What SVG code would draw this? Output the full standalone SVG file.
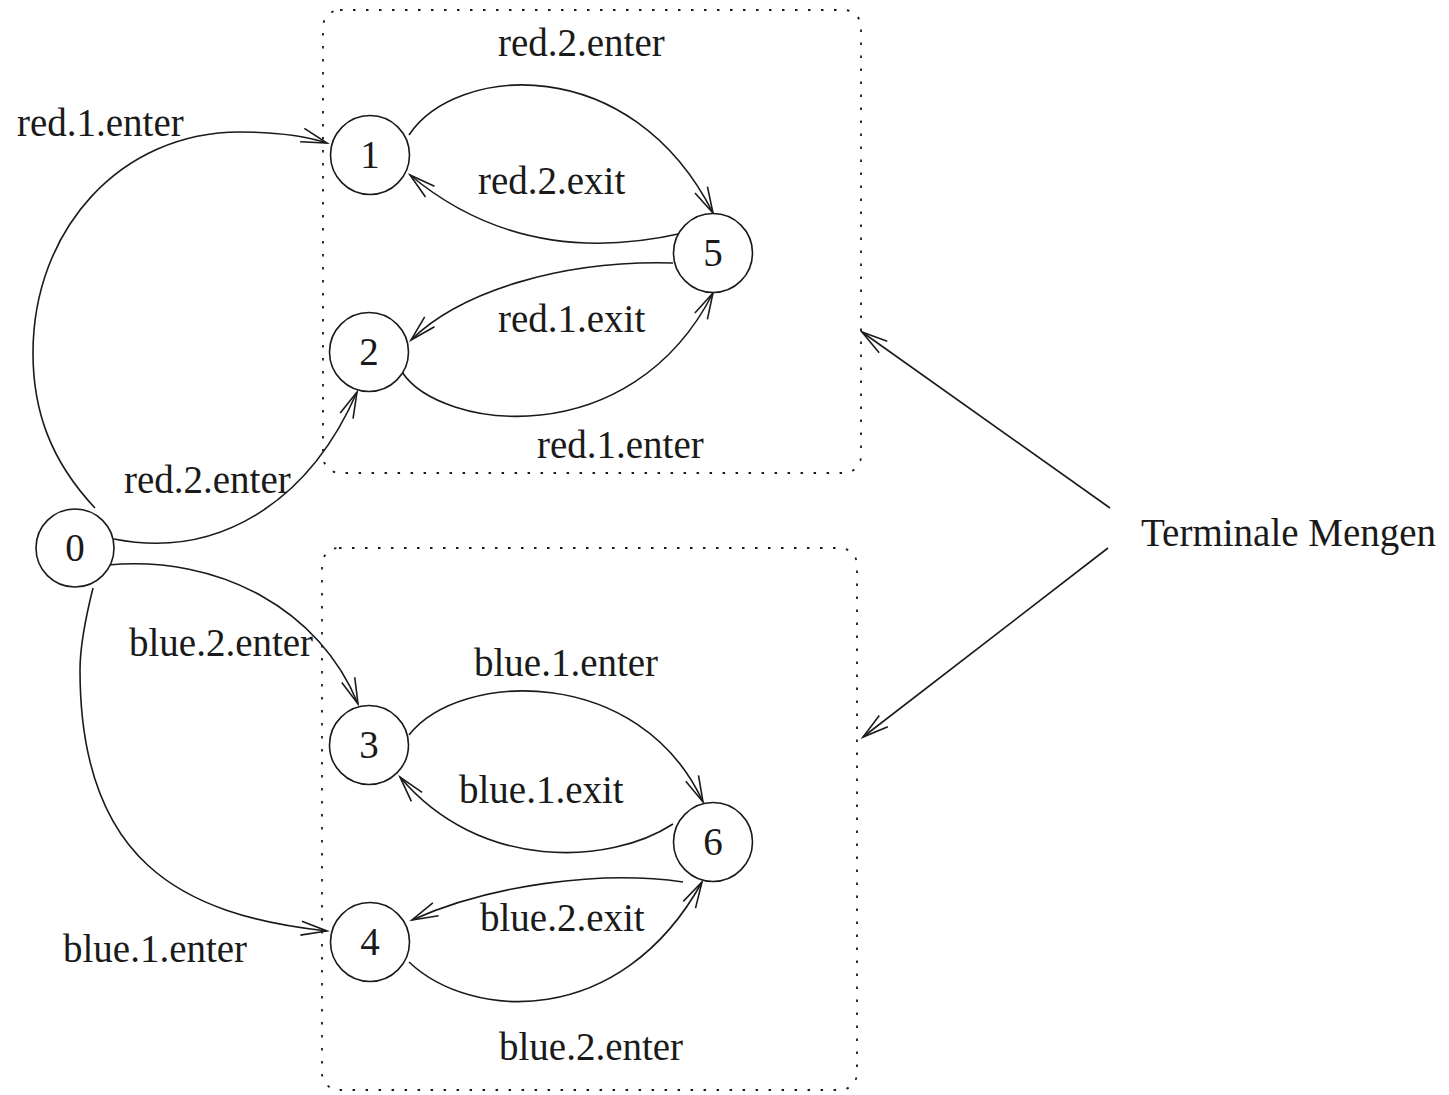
<svg xmlns="http://www.w3.org/2000/svg" width="1449" height="1095" viewBox="0 0 1449 1095">
<style>
text{font-family:"Liberation Serif","Times New Roman",serif;font-size:39px;fill:#1a1a1a}
.n circle{fill:#fff;stroke:#1a1a1a;stroke-width:1.6}
.n text{text-anchor:middle}
.e path,.e line{fill:none;stroke:#1a1a1a;stroke-width:1.6;marker-end:url(#ah)}
.box{fill:none;stroke:#1a1a1a;stroke-width:1.8;stroke-dasharray:2.5 10.5}
</style>
<defs>
<marker id="ah" markerUnits="userSpaceOnUse" orient="auto" markerWidth="40" markerHeight="40" refX="0" refY="0" viewBox="-30 -15 40 30" overflow="visible">
<path d="M -26 -7 L 0 0 L -26 7" fill="none" stroke="#1a1a1a" stroke-width="1.6"/>
</marker>
</defs>
<rect class="box" x="323" y="10" width="538" height="463" rx="17"/>
<rect class="box" x="322" y="548" width="535" height="542" rx="17"/>
<g id="connectors" class="e">
<path d="M 95 508 C 50 460 33 410 33 353 C 33 230 120 132 240 132 C 280 132 305 136 327 143"/>
<path d="M 114 539 C 220 560 310 500 357 392"/>
<path d="M 108 565 C 220 555 320 610 358 704"/>
<path d="M 93 588 C 85 620 80 645 80 670 C 80 860 180 915 327 931"/>
<path d="M 409 135 C 455 65 630 50 713 213"/>
<path d="M 683 233 C 600 252 500 250 410 175"/>
<path d="M 673 263 C 560 260 460 292 411 340"/>
<path d="M 402 372 C 440 430 630 455 713 293"/>
<path d="M 409 735 C 460 670 640 665 703 802"/>
<path d="M 673 824 C 610 865 480 872 400 777"/>
<path d="M 683 882 C 600 870 490 885 412 920"/>
<path d="M 409 962 C 470 1020 620 1030 702 882"/>
<line x1="1110" y1="508" x2="862" y2="332"/>
<line x1="1108" y1="548" x2="863" y2="737"/>
</g>
<g id="node0" class="n"><circle cx="75" cy="548" r="39"/><text x="75" y="561">0</text></g>
<g id="node1" class="n"><circle cx="370" cy="155" r="39.5"/><text x="370" y="168">1</text></g>
<g id="node2" class="n"><circle cx="369" cy="352" r="39.5"/><text x="369" y="365">2</text></g>
<g id="node3" class="n"><circle cx="369" cy="745" r="39.5"/><text x="369" y="758">3</text></g>
<g id="node4" class="n"><circle cx="370" cy="942" r="39.5"/><text x="370" y="955">4</text></g>
<g id="node5" class="n"><circle cx="713" cy="253" r="39.5"/><text x="713" y="266">5</text></g>
<g id="node6" class="n"><circle cx="713" cy="842" r="39.5"/><text x="713" y="855">6</text></g>
<g id="labels">
<text x="498" y="56">red.2.enter</text>
<text x="17" y="136">red.1.enter</text>
<text x="478" y="194">red.2.exit</text>
<text x="498" y="332">red.1.exit</text>
<text x="537" y="458">red.1.enter</text>
<text x="124" y="493">red.2.enter</text>
<text x="129" y="656">blue.2.enter</text>
<text x="474" y="676">blue.1.enter</text>
<text x="459" y="803">blue.1.exit</text>
<text x="480" y="931">blue.2.exit</text>
<text x="63" y="962">blue.1.enter</text>
<text x="499" y="1060">blue.2.enter</text>
<text x="1141" y="546">Terminale Mengen</text>
</g>
</svg>
